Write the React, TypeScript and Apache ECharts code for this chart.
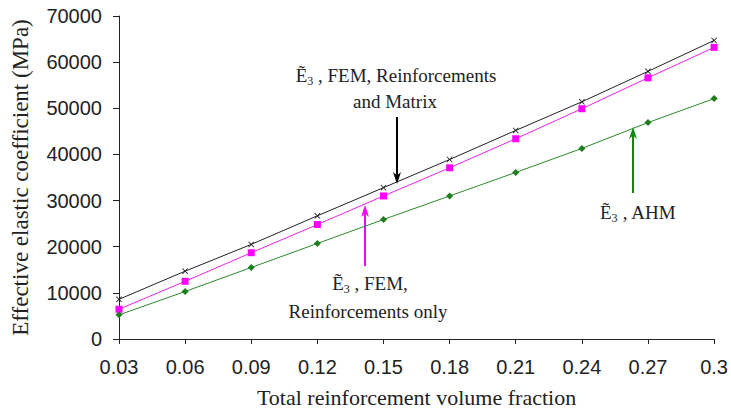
import React, { useEffect, useRef } from "react";
import * as echarts from "echarts";

const categories = ["0.03", "0.06", "0.09", "0.12", "0.15", "0.18", "0.21", "0.24", "0.27", "0.3"];
const femReinfMatrix = [8600, 14700, 20500, 26700, 32800, 38900, 45200, 51400, 58000, 64700];
const femReinfOnly = [6450, 12500, 18700, 24800, 31000, 37100, 43400, 49900, 56600, 63200];
const ahm = [5230, 10300, 15500, 20700, 25900, 31000, 36100, 41300, 46900, 52100];

const SERIF = "'Liberation Serif', 'Times New Roman', serif";
const SANS = "'Liberation Sans', Arial, sans-serif";
const CROSS = "path://M0,1 L1,0 L5,4 L9,0 L10,1 L6,5 L10,9 L9,10 L5,6 L1,10 L0,9 L4,5 Z";

function richLabel(rest: string, x: number, y: number) {
  return {
    type: "text",
    x,
    y,
    style: {
      text: "{e|Ẽ}{s|3}{t|" + rest + "}",
      align: "center",
      verticalAlign: "middle",
      fill: "#222",
      rich: {
        e: { fontSize: 19, fontFamily: SERIF, lineHeight: 24, fill: "#222" },
        s: { fontSize: 12, fontFamily: SERIF, lineHeight: 12, verticalAlign: "bottom", fill: "#222" },
        t: { fontSize: 19, fontFamily: SERIF, lineHeight: 24, fill: "#222" },
      },
    },
  };
}

function plainLabel(text: string, x: number, y: number) {
  return {
    type: "text",
    x,
    y,
    style: { text, align: "center", verticalAlign: "middle", fontSize: 19, fontFamily: SERIF, fill: "#222" },
  };
}

function arrow(x: number, yFrom: number, yTip: number, color: string) {
  const dir = yTip > yFrom ? 1 : -1;
  const headLen = 12;
  const headHalf = 4;
  return [
    {
      type: "line",
      shape: { x1: x, y1: yFrom, x2: x, y2: yTip - dir * headLen * 0.6 },
      style: { stroke: color, lineWidth: 2 },
    },
    {
      type: "polygon",
      shape: {
        points: [
          [x, yTip],
          [x - headHalf, yTip - dir * headLen],
          [x, yTip - dir * headLen * 0.7],
          [x + headHalf, yTip - dir * headLen],
        ],
      },
      style: { fill: color },
    },
  ];
}

export default function App() {
  const ref = useRef<HTMLDivElement>(null);
  useEffect(() => {
    if (!ref.current) return;
    const chart = echarts.init(ref.current, undefined, { renderer: "svg" });
    chart.setOption({
      animation: false,
      backgroundColor: "#fff",
      grid: { left: 119, right: 15, top: 16, bottom: 71 },
      xAxis: {
        type: "category",
        data: categories,
        boundaryGap: false,
        name: "Total reinforcement volume fraction",
        nameLocation: "middle",
        nameGap: 47,
        nameTextStyle: { fontFamily: SERIF, fontSize: 22, color: "#222" },
        axisLine: { lineStyle: { color: "#222", width: 1 } },
        axisTick: { alignWithLabel: true, length: 5, lineStyle: { color: "#222" } },
        axisLabel: { fontFamily: SANS, fontSize: 20, color: "#222", margin: 18 },
        splitLine: { show: false },
      },
      yAxis: {
        type: "value",
        min: 0,
        max: 70000,
        interval: 10000,
        name: "Effective elastic coefficient (MPa)",
        nameLocation: "middle",
        nameGap: 87,
        nameTextStyle: { fontFamily: SERIF, fontSize: 23, color: "#222" },
        axisLine: { show: true, lineStyle: { color: "#222", width: 1 } },
        axisTick: { show: true, length: 6, lineStyle: { color: "#222" } },
        axisLabel: {
          fontFamily: SANS,
          fontSize: 20,
          color: "#222",
          margin: 17,
          formatter: (v: number) => String(v),
        },
        splitLine: { show: false },
      },
      series: [
        {
          name: "FEM, Reinforcements and Matrix",
          type: "line",
          data: femReinfMatrix,
          symbol: CROSS,
          symbolSize: 6,
          lineStyle: { color: "#222", width: 1 },
          itemStyle: { color: "#222" },
        },
        {
          name: "FEM, Reinforcements only",
          type: "line",
          data: femReinfOnly,
          symbol: "rect",
          symbolSize: 7,
          lineStyle: { color: "#ee22ee", width: 1 },
          itemStyle: { color: "#ff00ff" },
        },
        {
          name: "AHM",
          type: "line",
          data: ahm,
          symbol: "diamond",
          symbolSize: 7,
          lineStyle: { color: "#2a8a2a", width: 1 },
          itemStyle: { color: "#1e7e1e" },
        },
      ],
      graphic: [
        richLabel(" , FEM, Reinforcements", 396, 75),
        plainLabel("and Matrix", 395, 101),
        ...arrow(397, 117, 184, "#000"),
        richLabel(" , FEM,", 370, 283),
        plainLabel("Reinforcements only", 368, 311),
        ...arrow(365, 266, 205, "#ff00ff"),
        richLabel(" , AHM", 638, 212),
        ...arrow(633, 193, 127, "#108a10"),
      ],
    });
    return () => chart.dispose();
  }, []);
  return (
    <div
      ref={ref}
      style={{ position: "fixed", left: 0, top: 0, width: 731, height: 413, background: "#fff" }}
    />
  );
}
